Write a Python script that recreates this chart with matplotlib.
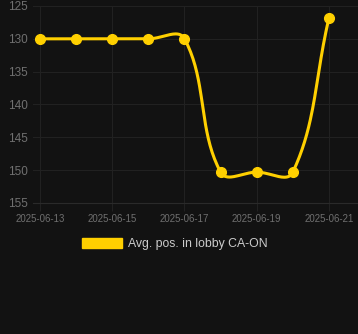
import numpy as np
import pandas as pd
import matplotlib
matplotlib.use("Agg")
import matplotlib.pyplot as plt
import matplotlib.dates as mdates
from matplotlib.patches import Patch

dates = pd.date_range("2025-06-13", "2025-06-21", freq="D")
positions = [130, 130, 130, 130, 130, 150.3, 150.3, 150.3, 126.8]
label = "Avg. pos. in lobby CA-ON"
y_ticks = [125, 130, 135, 140, 145, 150, 155]
x_ticks = ["2025-06-13", "2025-06-15", "2025-06-17", "2025-06-19", "2025-06-21"]

bg = "#121212"
gold = "#FFD000"
grid = "#212121"

plt.rcParams['font.family'] = ['Liberation Sans', 'DejaVu Sans']

fig = plt.figure(figsize=(3.58, 3.34), dpi=100, facecolor=bg)
W, H = 358, 334
ax = fig.add_axes([33 / W, (H - 203) / H, (358 - 33) / W, (203 - 6) / H], facecolor=bg)

x = mdates.date2num(dates)
y = np.array(positions, dtype=float)

# chart.js style bezier smoothing (tension 0.4), computed in pixel-like units
sx, sy = 36.1, 6.55
px, py = x * sx, y * sy
t = 0.4
curve_x, curve_y = [], []
n = len(px)
cps = []
for i in range(n):
    prev = i - 1 if i > 0 else i
    nxt = i + 1 if i < n - 1 else i
    d01 = np.hypot(px[i] - px[prev], py[i] - py[prev])
    d12 = np.hypot(px[nxt] - px[i], py[nxt] - py[i])
    tot = d01 + d12 if d01 + d12 > 0 else 1
    fa, fb = t * d01 / tot, t * d12 / tot
    dx, dy = px[nxt] - px[prev], py[nxt] - py[prev]
    cps.append(((px[i] - fa * dx, py[i] - fa * dy), (px[i] + fb * dx, py[i] + fb * dy)))
s = np.linspace(0, 1, 40)
for i in range(n - 1):
    p0 = np.array([px[i], py[i]])
    p1 = np.array(cps[i][1])
    p2 = np.array(cps[i + 1][0])
    p3 = np.array([px[i + 1], py[i + 1]])
    b = ((1 - s) ** 3)[:, None] * p0 + (3 * (1 - s) ** 2 * s)[:, None] * p1 \
        + (3 * (1 - s) * s ** 2)[:, None] * p2 + (s ** 3)[:, None] * p3
    curve_x.extend(b[:, 0] / sx)
    curve_y.extend(b[:, 1] / sy)

ax.plot(curve_x, curve_y, color=gold, lw=2.2, solid_capstyle="round", zorder=3)
ax.plot(x, y, "o", color=gold, ms=7, zorder=4, clip_on=False)

ax.set_xlim(x[0] - 7 / sx, x[-1] + 29 / sx)
ax.set_ylim(155, 125)
ax.set_yticks(y_ticks)
ax.set_xticks(mdates.date2num(pd.to_datetime(x_ticks)))
ax.set_xticklabels(x_ticks)
ax.grid(True, color=grid, lw=0.8)
for sp in ax.spines.values():
    sp.set_visible(False)
ax.spines["bottom"].set_visible(True)
ax.spines["bottom"].set_color("#2a2a2a")
ax.spines["bottom"].set_linewidth(0.8)
ax.tick_params(axis="y", length=0, colors="#707070", labelsize=8.5, pad=4)
ax.tick_params(axis="x", length=6, colors="#707070", labelsize=6.9, pad=2)
ax.tick_params(axis="x", color=grid)

handle = Patch(facecolor=gold, edgecolor=gold)
fig.legend([handle], [label], loc="center", bbox_to_anchor=(175 / W, (H - 244) / H),
           frameon=False, fontsize=8.8, labelcolor="#cccccc",
           handlelength=3.3, handleheight=0.9, handletextpad=0.5)

fig.savefig("out.png", dpi=100, facecolor=bg)
